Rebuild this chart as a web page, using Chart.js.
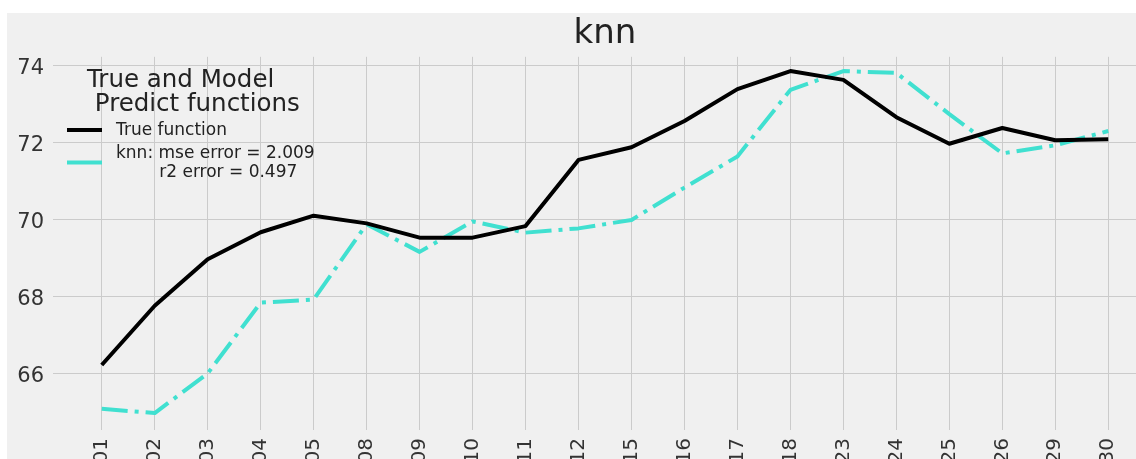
<!DOCTYPE html>
<html>
<head>
<meta charset="utf-8">
<script src="https://cdn.jsdelivr.net/npm/chart.js@4.4.1/dist/chart.umd.min.js"></script>
<style>
  html, body { margin: 0; padding: 0; background: #ffffff; overflow: hidden; width: 1136px; height: 459px; }
  #fig { position: absolute; left: 7px; top: 13px; width: 1150px; height: 446px; background: #f0f0f0; }
  canvas { display: block; }
</style>
</head>
<body>
<div id="fig"><canvas id="chart" width="1150" height="446"></canvas></div>
<script>
// Day labels along the x axis
const dates = ['01', '02', '03', '04', '05', '08', '09', '10', '11', '12',
               '15', '16', '17', '18', '23', '24', '25', '26', '29', '30'];

// Observed values
const trueValues = [66.22, 67.76, 68.97, 69.67, 70.10, 69.90, 69.53, 69.53, 69.83, 71.55,
                    71.88, 72.56, 73.39, 73.86, 73.63, 72.66, 71.97, 72.38, 72.06, 72.09];

// k-nearest-neighbours predictions
const knnValues = [65.08, 64.97, 66.00, 67.84, 67.92, 69.88, 69.16, 69.95, 69.66, 69.77,
                   69.99, 70.83, 71.64, 73.37, 73.86, 73.81, 72.74, 71.72, 71.93, 72.30];

const yTicks = [66, 68, 70, 72, 74];

const modelName = 'knn';
const mseError = '2.009';
const r2Error = '0.497';

const FONT = "'DejaVu Sans', sans-serif";

// Legend drawn in the upper-left corner of the plot, with a two-line title
const legendPlugin = {
  id: 'cornerLegend',
  afterDatasetsDraw(chart, args, opts) {
    const ctx = chart.ctx;
    ctx.save();
    ctx.fillStyle = '#222222';
    ctx.textAlign = 'left';
    ctx.textBaseline = 'alphabetic';
    ctx.font = opts.titleSize + 'px ' + FONT;
    opts.title.forEach((line, i) => {
      ctx.fillText(line, opts.x + 20, opts.titleY + i * opts.titleLead);
    });
    let y = opts.itemsY;
    chart.data.datasets.forEach((ds) => {
      const lines = ds.label.split('\n');
      const midY = y - 5 + (lines.length - 1) * opts.itemLead / 2;
      ctx.beginPath();
      ctx.strokeStyle = ds.borderColor;
      ctx.lineWidth = ds.borderWidth;
      ctx.setLineDash([]);
      ctx.moveTo(opts.x, midY);
      ctx.lineTo(opts.x + 35, midY);
      ctx.stroke();
      ctx.fillStyle = '#222222';
      ctx.font = opts.itemSize + 'px ' + FONT;
      lines.forEach((line, i) => {
        ctx.fillText(line, opts.x + 49, y + i * opts.itemLead);
      });
      y += lines.length * opts.itemLead + 4;
    });
    ctx.restore();
  }
};

new Chart(document.getElementById('chart'), {
  type: 'line',
  data: {
    datasets: [
      {
        label: 'True function',
        data: trueValues.map((v, i) => ({ x: i, y: v })),
        borderColor: '#000000',
        borderWidth: 4,
        borderJoinStyle: 'round',
        pointRadius: 0,
        tension: 0
      },
      {
        label: modelName + ': mse error = ' + mseError + '\n        r2 error = ' + r2Error,
        data: knnValues.map((v, i) => ({ x: i, y: v })),
        borderColor: '#40e0d0',
        borderWidth: 4,
        borderDash: [26, 7, 4, 7],
        borderJoinStyle: 'round',
        pointRadius: 0,
        tension: 0
      }
    ]
  },
  options: {
    responsive: false,
    animation: false,
    devicePixelRatio: 1,
    layout: { padding: 0 },
    plugins: {
      legend: { display: false },
      tooltip: { enabled: false },
      title: {
        display: true,
        text: modelName,
        fullSize: false,
        color: '#222222',
        font: { size: 34, family: FONT, weight: 'normal', lineHeight: 1.2 },
        padding: { top: 1, bottom: 2 }
      },
      cornerLegend: {
        x: 60,
        title: ['True and Model', ' Predict functions'],
        titleSize: 24.5,
        titleY: 74,
        titleLead: 23.5,
        itemsY: 122,
        itemSize: 17,
        itemLead: 19
      }
    },
    scales: {
      x: {
        type: 'linear',
        min: -0.92,
        max: 19.92,
        afterBuildTicks: (s) => { s.ticks = dates.map((_, i) => ({ value: i })); },
        afterFit: (s) => { s.height = 29; s.paddingLeft = 0; s.paddingRight = 0; },
        ticks: {
          autoSkip: false,
          minRotation: 90,
          maxRotation: 90,
          padding: 8,
          color: '#333333',
          font: { size: 20, family: FONT },
          callback: (v, i) => dates[i]
        },
        grid: { color: '#cbcbcb', lineWidth: 1, drawTicks: false },
        border: { display: false }
      },
      y: {
        type: 'linear',
        min: 64.53,
        max: 74.23,
        afterBuildTicks: (s) => { s.ticks = yTicks.map(v => ({ value: v })); },
        afterFit: (s) => { s.width = 46; s.paddingTop = 0; s.paddingBottom = 0; },
        ticks: {
          padding: 9,
          labelOffset: 3,
          color: '#333333',
          font: { size: 21, family: FONT },
          callback: (v) => String(v)
        },
        grid: { color: '#cbcbcb', lineWidth: 1, drawTicks: false },
        border: { display: false }
      }
    }
  },
  plugins: [legendPlugin]
});
</script>
</body>
</html>
